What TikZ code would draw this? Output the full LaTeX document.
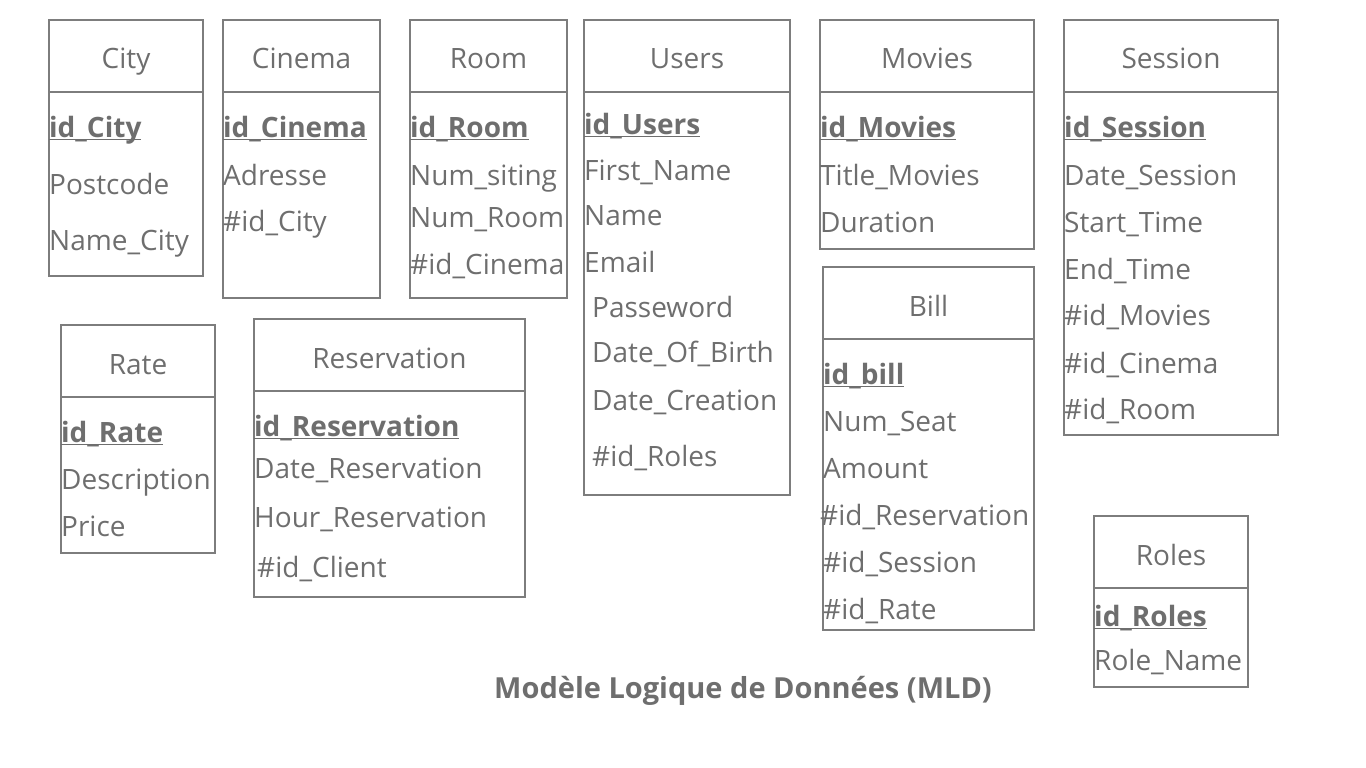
\documentclass[tikz,border=0pt]{standalone}
\usepackage{fontspec}
\setmainfont{Open Sans}
\usetikzlibrary{positioning}
\definecolor{mldgray}{RGB}{110,110,110}
\definecolor{mldline}{RGB}{125,125,125}
\newcommand{\pk}[1]{\textbf{\underline{\vphantom{i}\smash{#1}}}}
\tikzset{
	hdr/.style={draw=mldline, line width=1.2pt, rectangle, inner sep=0pt, outer sep=0pt, text=mldgray, text height=26pt, text depth=0pt, font=\fontsize{28}{33}\selectfont},
	bdy/.style={draw=mldline, line width=1.2pt, rectangle, inner sep=0pt, outer sep=0pt},
	attr/.style={anchor=mid west, inner sep=0pt, yshift=-7pt, text=mldgray, font=\fontsize{28}{33}\selectfont}
}
\begin{document}
\begin{tikzpicture}[x=1pt, y=-1pt]
	\useasboundingbox (0,0) rectangle (1366,768);

	% City
	\node[hdr, minimum width=154pt, minimum height=72pt] (city) at (126,56) {City};
	\node[bdy, minimum width=154pt, minimum height=184pt, below=0pt of city] (citybody) {};
	\node[attr] (cityid) at (49,128) {\pk{id\_City}};
	\node[attr] (citypost) at (49,185) {Postcode};
	\node[attr] (cityname) at (49,241) {Name\_City};

	% Cinema
	\node[hdr, minimum width=157pt, minimum height=72pt] (cinema) at (301.5,56) {Cinema};
	\node[bdy, minimum width=157pt, minimum height=206pt, below=0pt of cinema] (cinemabody) {};
	\node[attr] (cinemaid) at (223,128) {\pk{id\_Cinema}};
	\node[attr] (cinemaadr) at (223,176) {Adresse};
	\node[attr] (cinemacity) at (223,222) {\#id\_City};

	% Room
	\node[hdr, minimum width=157pt, minimum height=72pt] (room) at (488.5,56) {Room};
	\node[bdy, minimum width=157pt, minimum height=206pt, below=0pt of room] (roombody) {};
	\node[attr] (roomid) at (410,128) {\pk{id\_Room}};
	\node[attr] (roomsit) at (410,176) {Num\_siting};
	\node[attr] (roomnum) at (410,218) {Num\_Room};
	\node[attr] (roomcinema) at (410,265) {\#id\_Cinema};

	% Users
	\node[hdr, minimum width=206pt, minimum height=72pt] (users) at (687,56) {Users};
	\node[bdy, minimum width=206pt, minimum height=403pt, below=0pt of users] (usersbody) {};
	\node[attr] (usersid) at (584,125) {\pk{id\_Users}};
	\node[attr] (usersfirst) at (584,171) {First\_Name};
	\node[attr] (usersname) at (584,216) {Name};
	\node[attr] (usersmail) at (584,263) {Email};
	\node[attr] (userspass) at (592,308) {Passeword};
	\node[attr] (usersbirth) at (592,353) {Date\_Of\_Birth};
	\node[attr] (userscrea) at (592,401) {Date\_Creation};
	\node[attr] (usersroles) at (592,457) {\#id\_Roles};

	% Movies
	\node[hdr, minimum width=214pt, minimum height=72pt] (movies) at (927,56) {Movies};
	\node[bdy, minimum width=214pt, minimum height=157pt, below=0pt of movies] (moviesbody) {};
	\node[attr] (moviesid) at (820,128) {\pk{id\_Movies}};
	\node[attr] (moviestitle) at (820,176) {Title\_Movies};
	\node[attr] (moviesdur) at (820,223) {Duration};

	% Session
	\node[hdr, minimum width=214pt, minimum height=72pt] (session) at (1171,56) {Session};
	\node[bdy, minimum width=214pt, minimum height=343pt, below=0pt of session] (sessionbody) {};
	\node[attr] (sessionid) at (1064,128) {\pk{id\_Session}};
	\node[attr] (sessiondate) at (1064,176) {Date\_Session};
	\node[attr] (sessionstart) at (1064,223) {Start\_Time};
	\node[attr] (sessionend) at (1064,270) {End\_Time};
	\node[attr] (sessionmovies) at (1064,316) {\#id\_Movies};
	\node[attr] (sessioncinema) at (1064,364) {\#id\_Cinema};
	\node[attr] (sessionroom) at (1064,410) {\#id\_Room};

	% Bill
	\node[hdr, minimum width=211pt, minimum height=72pt] (bill) at (928.5,303) {Bill};
	\node[bdy, minimum width=211pt, minimum height=291pt, below=0pt of bill] (billbody) {};
	\node[attr] (billid) at (823,375) {\pk{id\_bill}};
	\node[attr] (billseat) at (823,422) {Num\_Seat};
	\node[attr] (billamount) at (823,469) {Amount};
	\node[attr] (billresa) at (820,516) {\#id\_Reservation};
	\node[attr] (billsession) at (823,563) {\#id\_Session};
	\node[attr] (billrate) at (823,610) {\#id\_Rate};

	% Rate
	\node[hdr, minimum width=154pt, minimum height=72pt] (rate) at (138,361) {Rate};
	\node[bdy, minimum width=154pt, minimum height=156pt, below=0pt of rate] (ratebody) {};
	\node[attr] (rateid) at (61,433) {\pk{id\_Rate}};
	\node[attr] (ratedesc) at (61,480) {Description};
	\node[attr] (rateprice) at (61,527) {Price};

	% Reservation
	\node[hdr, minimum width=271pt, minimum height=72pt] (resa) at (389.5,355) {Reservation};
	\node[bdy, minimum width=271pt, minimum height=206pt, below=0pt of resa] (resabody) {};
	\node[attr] (resaid) at (254,427) {\pk{id\_Reservation}};
	\node[attr] (resadate) at (254,469) {Date\_Reservation};
	\node[attr] (resahour) at (254,518) {Hour\_Reservation};
	\node[attr] (resaclient) at (257,568) {\#id\_Client};

	% Roles
	\node[hdr, minimum width=154pt, minimum height=72pt] (roles) at (1171,552) {Roles};
	\node[bdy, minimum width=154pt, minimum height=99pt, below=0pt of roles] (rolesbody) {};
	\node[attr] (rolesid) at (1094,617) {\pk{id\_Roles}};
	\node[attr] (rolesname) at (1094,661) {Role\_Name};

	\node[text=mldgray, font=\bfseries\fontsize{29}{35}\selectfont] (title) at (743,691) {Modèle Logique de Données (MLD)};

\end{tikzpicture}
\end{document}
